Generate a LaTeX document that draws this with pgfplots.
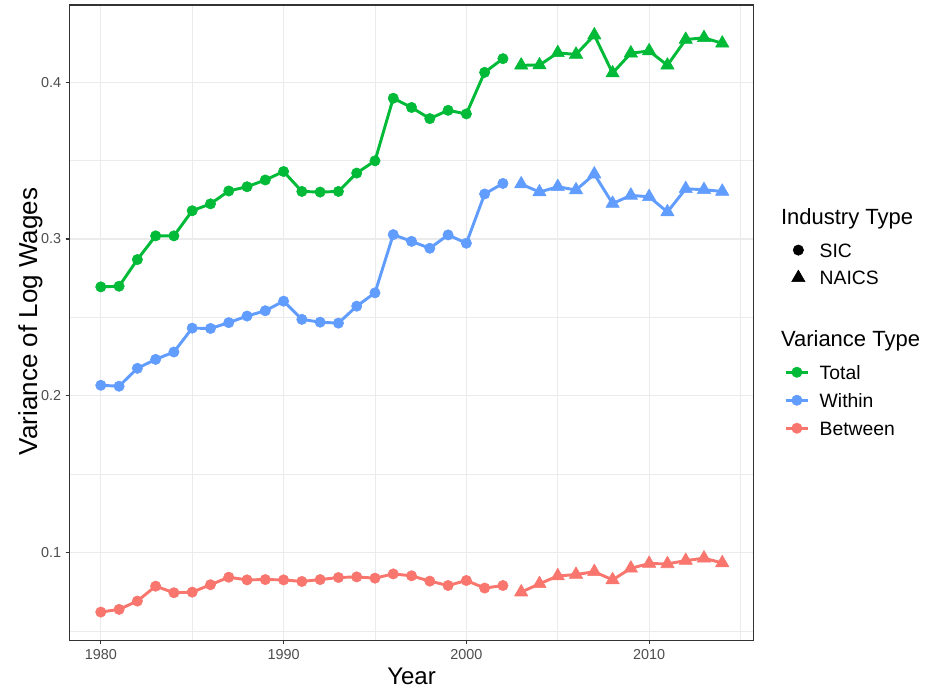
\documentclass[border=0pt]{standalone}
\usepackage{fontspec}
\setmainfont{Liberation Sans}
\usepackage{pgfplots}
\pgfplotsset{compat=1.18}
\definecolor{cTotal}{HTML}{00BA38}
\definecolor{cWithin}{HTML}{619CFF}
\definecolor{cBetween}{HTML}{F8766D}
\definecolor{gridc}{HTML}{EBEBEB}
\definecolor{borderc}{HTML}{333333}
\definecolor{tickc}{HTML}{4D4D4D}
\pgfplotsset{
  legkeys/.style={
    legend image code/.code={\path[draw=none,fill=none] (0pt,0pt) -- (17pt,0pt); \draw[mark repeat=2,mark phase=2] plot coordinates {(0pt,0pt) (8.5pt,0pt) (17pt,0pt)};},
    legend style={draw=none, fill=none, inner sep=0pt, outer sep=0pt, column sep=7.5pt,
      nodes={inner sep=0pt, outer sep=0pt, text height=10.4pt, text depth=0pt, font=\fontsize{14.5}{17}\selectfont},
      cells={anchor=west}},
    legend cell align=left,
  },
  markkey/.style={legend image code/.code={\path[draw=none,fill=none] (0pt,0pt) -- (17pt,0pt); \draw plot coordinates {(8.5pt,0pt)};}},
  frame/.style={at={(52.3pt,39.4pt)}, anchor=south west,
    scale only axis, width=512.7pt, height=476.6pt},
}
\begin{document}
\begin{tikzpicture}[x=1pt,y=1pt]
\path[use as bounding box] (0,0) rectangle (696.75,519.75);
\begin{axis}[
  frame, legkeys,
  xmin=1978.3, xmax=2015.7, ymin=0.0442, ymax=0.4491,
  xtick={1980,1990,2000,2010}, xticklabels={1980,1990,2000,2010},
  ytick={0.1,0.2,0.3,0.4}, yticklabels={0.1,0.2,0.3,0.4},
  minor xtick={1985,1995,2005,2015},
  minor ytick={0.05,0.15,0.25,0.35,0.45},
  grid=both,
  major grid style={gridc, line width=0.8pt},
  minor grid style={gridc, line width=0.5pt},
  minor tick length=0pt,
  major tick length=3pt,
  tick align=outside,
  tick pos=left,
  tick style={borderc, line width=0.8pt},
  axis line style={borderc, line width=0.8pt},
  ticklabel style={font=\fontsize{10.8}{12}\selectfont, text=tickc},
  /pgf/number format/assume math mode=true,
  every axis x label/.style={at={(axis description cs:0.5,-0.070)}, anchor=base},
  every axis y label/.style={at={(axis description cs:-0.0478,0.502)}, rotate=90, anchor=base},
  xlabel={\fontsize{18}{20}\selectfont Year},
  ylabel={\fontsize{19.5}{22}\selectfont Variance of Log Wages},
  legend style={at={(axis description cs:1.0493,0.5925)}, anchor=west, row sep=9.8pt},
  every axis plot/.append style={line width=2.2pt, line join=round},
]
% Total
\addplot[cTotal, mark=*, mark size=3.9pt, mark options={line width=0.4pt}, forget plot] coordinates {
(1980,0.2695) (1981,0.2699) (1982,0.2869) (1983,0.3020) (1984,0.3020) (1985,0.3180)
(1986,0.3224) (1987,0.3306) (1988,0.3333) (1989,0.3376) (1990,0.3430) (1991,0.3303)
(1992,0.3299) (1993,0.3303) (1994,0.3420) (1995,0.3498) (1996,0.3897) (1997,0.3838)
(1998,0.3767) (1999,0.3820) (2000,0.3797) (2001,0.4062) (2002,0.4149)};
\addplot[cTotal, mark=triangle*, mark size=5.8pt, mark options={line width=0.4pt}, forget plot] coordinates {
(2003,0.4107) (2004,0.4108) (2005,0.4186) (2006,0.4176) (2007,0.4299) (2008,0.4057)
(2009,0.4184) (2010,0.4198) (2011,0.4107) (2012,0.4271) (2013,0.4282) (2014,0.4247)};
% Within
\addplot[cWithin, mark=*, mark size=3.9pt, mark options={line width=0.4pt}, forget plot] coordinates {
(1980,0.2068) (1981,0.2062) (1982,0.2176) (1983,0.2233) (1984,0.2280) (1985,0.2432)
(1986,0.2430) (1987,0.2467) (1988,0.2509) (1989,0.2543) (1990,0.2604) (1991,0.2488)
(1992,0.2470) (1993,0.2464) (1994,0.2572) (1995,0.2657) (1996,0.3028) (1997,0.2985)
(1998,0.2941) (1999,0.3026) (2000,0.2973) (2001,0.3287) (2002,0.3354)};
\addplot[cWithin, mark=triangle*, mark size=5.8pt, mark options={line width=0.4pt}, forget plot] coordinates {
(2003,0.3350) (2004,0.3299) (2005,0.3333) (2006,0.3312) (2007,0.3413) (2008,0.3226)
(2009,0.3278) (2010,0.3269) (2011,0.3172) (2012,0.3320) (2013,0.3314) (2014,0.3303)};
% Between
\addplot[cBetween, mark=*, mark size=3.9pt, mark options={line width=0.4pt}, forget plot] coordinates {
(1980,0.0623) (1981,0.0640) (1982,0.0693) (1983,0.0788) (1984,0.0746) (1985,0.0750)
(1986,0.0797) (1987,0.0845) (1988,0.0828) (1989,0.0830) (1990,0.0828) (1991,0.0818)
(1992,0.0830) (1993,0.0843) (1994,0.0847) (1995,0.0839) (1996,0.0866) (1997,0.0854)
(1998,0.0820) (1999,0.0792) (2000,0.0824) (2001,0.0776) (2002,0.0792)};
\addplot[cBetween, mark=triangle*, mark size=5.8pt, mark options={line width=0.4pt}, forget plot] coordinates {
(2003,0.0750) (2004,0.0803) (2005,0.0853) (2006,0.0862) (2007,0.0880) (2008,0.0828)
(2009,0.0902) (2010,0.0932) (2011,0.0930) (2012,0.0951) (2013,0.0966) (2014,0.0936)};
% Legend: Industry Type
\addlegendimage{only marks, black, mark=*, mark size=3.9pt, mark options={line width=0.4pt}, markkey}
\addlegendentry{SIC}
\addlegendimage{only marks, black, mark=triangle*, mark size=5.8pt, mark options={line width=0.4pt}, markkey}
\addlegendentry{NAICS}
\end{axis}
\begin{axis}[
  frame, legkeys, hide axis, clip=false,
  xmin=0, xmax=1, ymin=0, ymax=1,
  legend style={at={(axis description cs:1.045,0.378)}, anchor=west, row sep=10.6pt},
]
\addlegendimage{cTotal, line width=2.2pt, mark=*, mark size=3.9pt, mark options={line width=0.4pt}}
\addlegendentry{Total}
\addlegendimage{cWithin, line width=2.2pt, mark=*, mark size=3.9pt, mark options={line width=0.4pt}}
\addlegendentry{Within}
\addlegendimage{cBetween, line width=2.2pt, mark=*, mark size=3.9pt, mark options={line width=0.4pt}}
\addlegendentry{Between}
\node[anchor=base west, inner sep=0pt, font=\fontsize{16.5}{19}\selectfont] at (axis description cs:1.0401,0.6538) {Industry Type};
\node[anchor=base west, inner sep=0pt, font=\fontsize{16.5}{19}\selectfont] at (axis description cs:1.0401,0.4618) {Variance Type};
\end{axis}
\end{tikzpicture}
\end{document}
